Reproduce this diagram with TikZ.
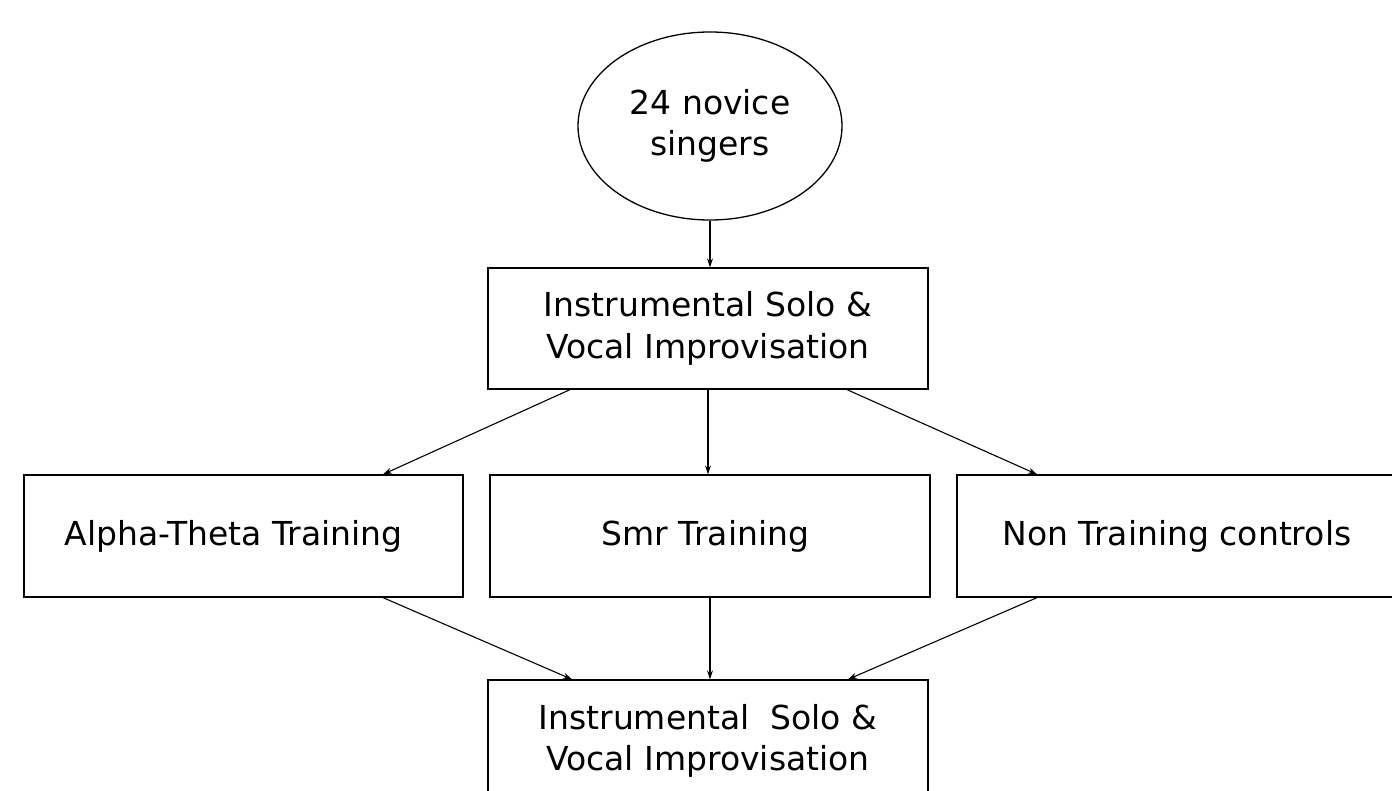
\documentclass[tikz,border=0pt]{standalone}
\usepackage{fontspec}
\setmainfont{DejaVu Sans}
\usetikzlibrary{shapes.geometric,arrows.meta}
\begin{document}
\begin{tikzpicture}[x=1pt,y=-1pt,
  box/.style={draw,line width=1.3pt,inner sep=0pt,align=center,
    font=\fontsize{33}{41.5}\selectfont},
  arr/.style={line width=1.1pt,-{Stealth[length=9pt,width=6pt]}}]
\clip (0,0) rectangle (1392,791);
\fill[white] (0,0) rectangle (1392,791);
\node[box,ellipse,minimum width=264pt,minimum height=188pt] (start) at (710,126) {24 novice\\singers};
\node[box,minimum width=440pt,minimum height=121pt] (pre) at (708,328.5) {Instrumental Solo \&\\Vocal Improvisation};
\node[box,minimum width=439pt,minimum height=122pt] (alpha) at (243.5,536) {Alpha-Theta Training\hspace*{20pt}};
\node[box,minimum width=440pt,minimum height=122pt] (smr) at (710,536) {Smr Training\hspace*{9pt}};
\node[box,minimum width=440pt,minimum height=122pt] (non) at (1177,536) {Non Training controls};
\node[box,minimum width=440pt,minimum height=122pt] (post) at (708,741) {Instrumental\ \ Solo \&\\Vocal Improvisation};
\draw[arr] (start.south) -- (start.south |- pre.north);
\draw[arr] ([xshift=-138pt]pre.south) -- ([xshift=139.5pt]alpha.north);
\draw[arr] (pre.south) -- (pre.south |- smr.north);
\draw[arr] ([xshift=139pt]pre.south) -- ([xshift=-140pt]non.north);
\draw[arr] ([xshift=139.5pt]alpha.south) -- ([xshift=-136pt]post.north);
\draw[arr] (smr.south) -- (smr.south |- post.north);
\draw[arr] ([xshift=-140pt]non.south) -- ([xshift=140pt]post.north);
\end{tikzpicture}
\end{document}
